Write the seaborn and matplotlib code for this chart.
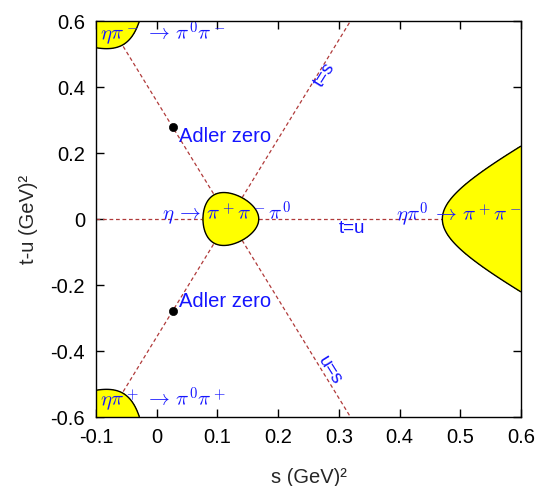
import numpy as np
import pandas as pd
import matplotlib
matplotlib.use("Agg")
import matplotlib.pyplot as plt
import seaborn as sns
from matplotlib.ticker import FuncFormatter, FixedLocator

# ---- data ----
m_eta = 0.5479          # GeV
m_pi = 0.138            # GeV
adler_s = [0.026, 0.026]
adler_y = [0.278, -0.278]
x_ticks = [-0.1, 0.0, 0.1, 0.2, 0.3, 0.4, 0.5, 0.6]
y_ticks = [-0.6, -0.4, -0.2, 0.0, 0.2, 0.4, 0.6]
x_range = [-0.1, 0.6]
y_range = [-0.6, 0.6]

sns.set_theme(style="ticks")
plt.rcParams['font.family'] = ['Liberation Sans', 'DejaVu Sans']
plt.rcParams['axes.unicode_minus'] = False

fig = plt.figure(figsize=(5.37, 4.86), dpi=100)
ax = fig.add_axes([96/537, 1-417/486, 425/537, 396/486])

Sigma = m_eta**2 + 3*m_pi**2
s_line = np.array(x_range)
lines = {
    "t=s": 3*s_line - Sigma,
    "u=s": Sigma - 3*s_line,
    "t=u": 0*s_line,
}
dash_col = "#b03a3a"
for name, yv in lines.items():
    sns.lineplot(x=s_line, y=yv, ax=ax, color=dash_col, lw=0.9,
                 linestyle=(0, (3, 2.2)), zorder=1, sort=False)

# Kibble function physical regions
S, Y = np.meshgrid(np.linspace(x_range[0], x_range[1], 900),
                   np.linspace(y_range[0], y_range[1], 900))
T = (Sigma - S + Y)/2
U = (Sigma - S - Y)/2
Phi = S*T*U - m_pi**2*(m_eta**2 - m_pi**2)**2
ax.contourf(S, Y, Phi, levels=[0, Phi.max()], colors=['#ffff00'], zorder=2)
ax.contour(S, Y, Phi, levels=[0], colors='black', linewidths=1.0, zorder=3)

sns.scatterplot(x=adler_s, y=adler_y, ax=ax, color='black', s=35,
                edgecolor='black', zorder=4)

blue = '#1515ff'
tk = dict(color=blue, fontsize=15, math_fontfamily='cm', zorder=5)
ax.text(-0.094, 0.562, r"$\eta\pi^-\, \rightarrow\, \pi^0\pi^-$", ha='left', va='center', **tk)
ax.text(-0.094, -0.548, r"$\eta\pi^+\, \rightarrow\, \pi^0\pi^+$", ha='left', va='center', **tk)
ax.text(0.115, 0.015, r"$\eta\, \rightarrow\, \pi^+\pi^-\pi^0$", ha='center', va='center', **tk)
ax.text(0.497, 0.012, r"$\eta\pi^0\, \rightarrow\, \pi^+\pi^-$", ha='center', va='center', **tk)

ax.text(0.037, 0.25, "Adler zero", color=blue, fontsize=14.5, ha='left', va='center', zorder=5)
ax.text(0.037, -0.25, "Adler zero", color=blue, fontsize=14.5, ha='left', va='center', zorder=5)
ax.text(0.277, 0.436, "t=s", color=blue, fontsize=13.5, ha='center', va='center', rotation=58, zorder=5)
ax.text(0.285, -0.458, "u=s", color=blue, fontsize=13.5, ha='center', va='center', rotation=-58, zorder=5)
ax.text(0.321, -0.03, "t=u", color=blue, fontsize=13.5, ha='center', va='center', zorder=5)

ax.set_xlim(*x_range)
ax.set_ylim(*y_range)
ax.xaxis.set_major_locator(FixedLocator(x_ticks))
ax.yaxis.set_major_locator(FixedLocator(y_ticks))
fmt = FuncFormatter(lambda v, p: ("%g" % round(v, 3)) if abs(v) > 1e-9 else "0")
ax.xaxis.set_major_formatter(fmt)
ax.yaxis.set_major_formatter(fmt)
ax.tick_params(direction='in', length=6, width=1, top=True, right=True,
               labelsize=14.5, pad=8, colors='black')
for sp in ax.spines.values():
    sp.set_linewidth(1.0)
    sp.set_color('black')
    sp.set_zorder(6)
ax.set_xlabel("s (GeV)²", fontsize=14.5, labelpad=15)
ax.set_ylabel("t-u (GeV)²", fontsize=14.5, labelpad=9)

fig.savefig("out.png", dpi=100)
